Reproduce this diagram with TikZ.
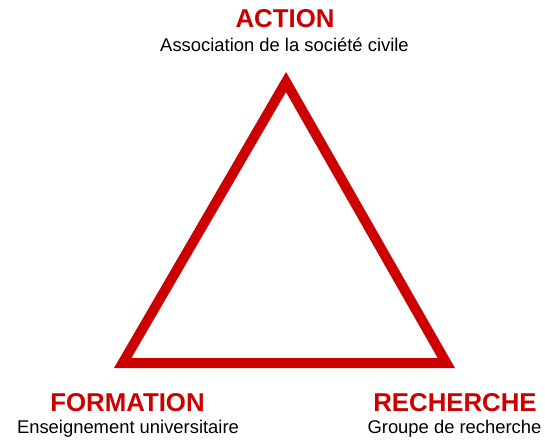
\documentclass[tikz,border=0pt]{standalone}
\usepackage{fontspec}
\setmainfont{Liberation Sans}
\definecolor{tred}{HTML}{CC0000}
\begin{document}
\begin{tikzpicture}[x=1pt,y=-1pt,
  title/.style={anchor=base,inner sep=0pt,text=tred,font=\fontsize{25.8}{28}\selectfont\bfseries},
  sub/.style={anchor=base,inner sep=0pt,text=black,font=\fontsize{18.4}{21}\selectfont},
  edge/.style={draw=tred,line width=10pt,line join=miter}]
\useasboundingbox (0,0) rectangle (545,442);
\coordinate (top) at (286,82);
\coordinate (bl) at (122.7,363);
\coordinate (br) at (446.3,363);
\draw[edge] (top) -- (bl) -- (br) -- cycle;
\node[title] (action) at (285,27) {ACTION};
\node[sub] (actsub) at (284.5,51) {Association de la société civile};
\node[title] (formation) at (127.5,411) {FORMATION};
\node[sub] (formsub) at (128,433) {Enseignement universitaire};
\node[title] (recherche) at (455,411) {RECHERCHE};
\node[sub] (rechsub) at (454.5,433) {Groupe de recherche};
\end{tikzpicture}
\end{document}
